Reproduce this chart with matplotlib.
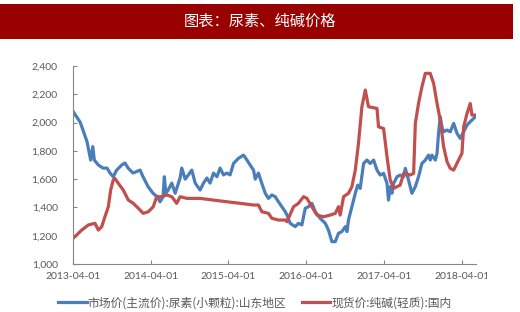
import matplotlib
matplotlib.use("Agg")
import matplotlib.pyplot as plt
import matplotlib.dates as mdates
from matplotlib.patches import Rectangle
from matplotlib.transforms import Bbox, TransformedBbox
import pandas as pd

plt.rcParams['font.family'] = ['Lato', 'Noto Sans CJK SC', 'DejaVu Sans']

title = "图表：尿素、纯碱价格"
urea_label = "市场价(主流价):尿素(小颗粒):山东地区"
soda_label = "现货价:纯碱(轻质):国内"

# urea, Shandong (blue)
urea_dates = [
    "2013-04-01", "2013-04-18", "2013-05-04", "2013-05-18", "2013-06-06", "2013-06-23",
    "2013-07-03", "2013-07-10", "2013-07-29", "2013-08-20", "2013-09-08", "2013-09-22",
    "2013-10-07", "2013-10-23", "2013-11-16", "2013-12-01", "2013-12-16", "2014-01-08",
    "2014-02-10", "2014-02-24", "2014-03-20", "2014-04-12", "2014-05-01", "2014-05-15",
    "2014-05-29", "2014-06-04", "2014-06-11", "2014-06-22", "2014-07-09", "2014-07-25",
    "2014-08-17", "2014-08-25", "2014-09-10", "2014-09-25", "2014-10-11", "2014-10-27",
    "2014-11-19", "2014-12-05", "2014-12-21", "2015-01-05", "2015-01-21", "2015-02-06",
    "2015-02-21", "2015-03-09", "2015-03-25", "2015-04-09", "2015-04-25", "2015-05-18",
    "2015-06-11", "2015-06-27", "2015-07-12", "2015-07-28", "2015-08-05", "2015-08-20",
    "2015-09-05", "2015-09-21", "2015-10-06", "2015-10-22", "2015-11-07", "2015-11-22",
    "2015-12-08", "2015-12-24", "2016-01-01", "2016-01-16", "2016-02-09", "2016-02-24",
    "2016-03-11", "2016-03-27", "2016-04-11", "2016-04-27", "2016-05-13", "2016-06-05",
    "2016-06-29", "2016-07-14", "2016-07-30", "2016-08-15", "2016-08-30", "2016-09-15",
    "2016-10-01", "2016-10-09", "2016-10-16", "2016-11-01", "2016-11-17", "2016-11-28",
    "2016-12-10", "2016-12-26", "2017-01-11", "2017-01-26", "2017-02-11", "2017-02-27",
    "2017-03-14", "2017-03-30", "2017-04-15", "2017-04-22", "2017-04-30", "2017-05-08",
    "2017-05-16", "2017-06-01", "2017-06-16", "2017-07-02", "2017-07-10", "2017-07-25",
    "2017-08-10", "2017-08-26", "2017-09-10", "2017-09-26", "2017-10-12", "2017-10-27",
    "2017-11-04", "2017-11-12", "2017-11-28", "2017-12-06", "2017-12-13", "2017-12-21",
    "2017-12-29", "2018-01-06", "2018-01-22", "2018-02-06", "2018-02-22", "2018-03-10",
    "2018-03-25", "2018-04-10", "2018-04-26", "2018-05-11", "2018-05-27", "2018-06-04",
]
urea_price = [
    2080, 2040, 2005, 1947, 1864, 1735,
    1830, 1735, 1700, 1678, 1678, 1643,
    1617, 1664, 1700, 1714, 1678, 1643,
    1664, 1617, 1546, 1500, 1476, 1440,
    1476, 1617, 1500, 1523, 1572, 1500,
    1608, 1678, 1600, 1630, 1664, 1572,
    1523, 1572, 1608, 1572, 1643, 1617,
    1678, 1630, 1643, 1630, 1711, 1747,
    1770, 1735, 1700, 1664, 1600, 1643,
    1570, 1500, 1464, 1488, 1476, 1440,
    1405, 1370, 1346, 1288, 1264, 1288,
    1276, 1394, 1405, 1429, 1370, 1323,
    1288, 1240, 1158, 1158, 1217, 1229,
    1264, 1229, 1311, 1405, 1500, 1558,
    1534, 1711, 1735, 1711, 1735, 1664,
    1629, 1641, 1570, 1452, 1547, 1500,
    1570, 1617, 1629, 1617, 1676, 1594,
    1500, 1547, 1617, 1711, 1735, 1770,
    1735, 1770, 1735, 1782, 1923, 2041,
    1970, 1935, 1947, 1935, 1994, 1923,
    1888, 1935, 1982, 2006, 2029, 2041,
]

# soda ash, light, domestic (red)
soda_dates = [
    "2013-04-01", "2013-04-18", "2013-05-12", "2013-06-12", "2013-07-13", "2013-07-29",
    "2013-08-14", "2013-08-29", "2013-09-14", "2013-09-25", "2013-10-07", "2013-10-15",
    "2013-10-31", "2013-11-23", "2013-12-17", "2014-01-09", "2014-02-02", "2014-02-25",
    "2014-03-21", "2014-04-13", "2014-04-29", "2014-05-23", "2014-06-15", "2014-07-09",
    "2014-08-01", "2014-08-17", "2014-09-18", "2014-11-19", "2015-01-21", "2015-03-25",
    "2015-05-26", "2015-07-28", "2015-08-20", "2015-09-05", "2015-10-06", "2015-10-22",
    "2015-11-22", "2015-12-24", "2016-01-01", "2016-02-01", "2016-02-24", "2016-03-19",
    "2016-04-04", "2016-04-27", "2016-05-21", "2016-06-21", "2016-07-22", "2016-08-15",
    "2016-08-30", "2016-09-07", "2016-09-23", "2016-10-16", "2016-11-01", "2016-11-17",
    "2016-12-02", "2016-12-18", "2017-01-03", "2017-01-18", "2017-02-27", "2017-03-06",
    "2017-03-30", "2017-04-15", "2017-04-30", "2017-05-16", "2017-06-16", "2017-07-02",
    "2017-08-02", "2017-08-18", "2017-08-26", "2017-09-10", "2017-09-26", "2017-10-12",
    "2017-11-04", "2017-11-20", "2017-12-06", "2017-12-21", "2018-01-06", "2018-01-22",
    "2018-02-06", "2018-02-22", "2018-03-17", "2018-04-02", "2018-04-10", "2018-04-26",
    "2018-05-11", "2018-05-19", "2018-06-04",
]
soda_price = [
    1181, 1205, 1240, 1276, 1288, 1240,
    1264, 1334, 1405, 1523, 1594, 1605,
    1570, 1523, 1452, 1429, 1394, 1358,
    1370, 1405, 1476, 1476, 1488, 1476,
    1429, 1476, 1464, 1464, 1452, 1440,
    1429, 1417, 1417, 1370, 1358, 1323,
    1311, 1311, 1299, 1405, 1429, 1476,
    1464, 1405, 1346, 1334, 1346, 1358,
    1405, 1346, 1476, 1500, 1546, 1664,
    1853, 2112, 2230, 2112, 2100, 1970,
    1958, 1758, 1594, 1535, 1558, 1641,
    1629, 1641, 1994, 2135, 2253, 2348,
    2348, 2277, 2135, 2018, 1829, 1723,
    1676, 1664, 1735, 1782, 1970, 2065,
    2135, 2053, 2053,
]

tick_dates = ["2013-04-01", "2014-04-01", "2015-04-01", "2016-04-01", "2017-04-01", "2018-04-01"]
y_ticks = [1000, 1200, 1400, 1600, 1800, 2000, 2200, 2400]

W, H = 520, 312
fig = plt.figure(figsize=(W / 100, H / 100), dpi=100)

# title banner
fig.patches.append(Rectangle((0, 1 - 39 / H), 513 / W, 35 / H, transform=fig.transFigure,
                             facecolor="#990000", edgecolor="none", zorder=0))
fig.text(260 / W, 1 - 21.5 / H, title, color="white", fontsize=11,
         family=['Noto Sans CJK SC'], ha="center", va="center")

ax = fig.add_axes([73 / W, 1 - 264 / H, (476 - 73) / W, (264 - 66) / H])

gray = "#595959"
blue = "#4A7EBB"
red = "#C0504D"

ax.plot(pd.to_datetime(urea_dates), urea_price, color=blue, lw=2.3,
        label=urea_label, solid_joinstyle="round")
ax.plot(pd.to_datetime(soda_dates), soda_price, color=red, lw=2.3,
        label=soda_label, solid_joinstyle="round")

ax.set_xlim(pd.Timestamp("2013-04-01"), pd.Timestamp("2018-06-07"))
ax.set_ylim(1000, 2400)
ax.set_yticks(y_ticks)
ax.yaxis.set_major_formatter(matplotlib.ticker.FuncFormatter(lambda v, p: f"{int(v):,}"))
ax.set_xticks(pd.to_datetime(tick_dates))
ax.set_xticklabels(tick_dates)

for s in ["top", "right"]:
    ax.spines[s].set_visible(False)
for s in ["left", "bottom"]:
    ax.spines[s].set_color("#868686")
    ax.spines[s].set_linewidth(0.8)
ax.tick_params(axis="both", direction="in", length=3, width=0.8, color="#868686",
               labelcolor=gray, labelsize=7.5)
ax.tick_params(axis="y", pad=11)
ax.tick_params(axis="x", pad=6)

# last tick label is cut off by the image edge in the original
clip = TransformedBbox(Bbox([[0, 0], [487 / W, 1]]), fig.transFigure)
for lab in ax.get_xticklabels():
    lab.set_clip_box(clip)
    lab.set_clip_on(True)

leg = fig.legend(loc="center", bbox_to_anchor=(255 / W, 1 - 303 / H), ncol=2, frameon=False,
                 prop={"family": ['Noto Sans CJK SC'], "size": 8.5}, handlelength=2.4,
                 handletextpad=0.1, columnspacing=1.3, borderaxespad=0)
for t in leg.get_texts():
    t.set_color(gray)

fig.savefig("out.png", dpi=100)
